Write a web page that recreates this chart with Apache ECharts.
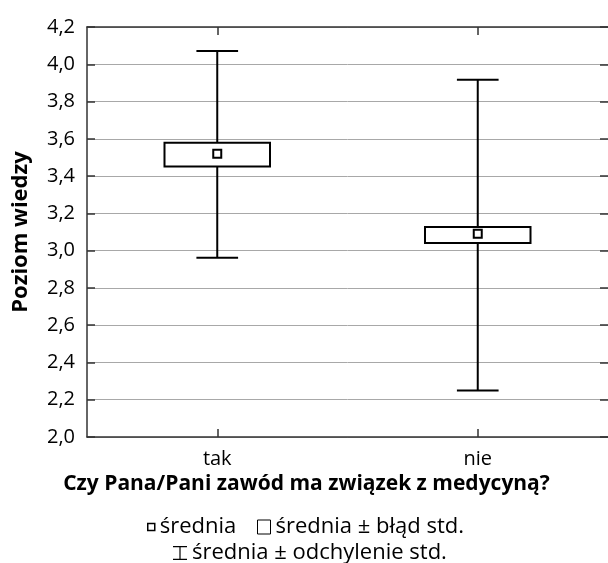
<!DOCTYPE html>
<html>
<head>
<meta charset="utf-8">
<style>
html,body{margin:0;padding:0;background:#fff;}
#chart{width:608px;height:563px;}
</style>
<script src="https://cdn.jsdelivr.net/npm/echarts@6/dist/echarts.min.js"></script>
</head>
<body>
<div id="chart"></div>
<script>
// ---- data ----
var categories = ['tak', 'nie'];
var means = [3.52, 3.09];
var seLow = [3.452, 3.041];
var seHigh = [3.579, 3.127];
var sdLow = [2.962, 2.249];
var sdHigh = [4.071, 3.917];
var yTicks = ['2,0','2,2','2,4','2,6','2,8','3,0','3,2','3,4','3,6','3,8','4,0','4,2'];
var xTitle = 'Czy Pana/Pani zawód ma związek z medycyną?';
var yTitle = 'Poziom wiedzy';
var seriesNames = ['średnia', 'średnia ± błąd std.', 'średnia ± odchylenie std.'];

var FONT = 'Open Sans';
var chart = echarts.init(document.getElementById('chart'), null, {renderer: 'canvas'});

function fmtY(v) {
  var i = Math.round((v - 2.0) / 0.2);
  return yTicks[i] !== undefined ? yTicks[i] : '';
}

var whiskerData = categories.map(function (c, i) { return [i, sdLow[i], sdHigh[i]]; });
var boxData = categories.map(function (c, i) { return [i, seLow[i], seHigh[i]]; });
var meanData = categories.map(function (c, i) { return [i, means[i]]; });

var LEG_FS = 22;
var option = {
  animation: false,
  backgroundColor: '#fff',
  textStyle: {fontFamily: FONT, color: '#000'},
  grid: {left: 87, top: 27, right: -2, bottom: 126, containLabel: false},
  xAxis: [{
    type: 'category', data: categories, position: 'bottom',
    boundaryGap: true,
    axisLine: {show: true, lineStyle: {color: '#333', width: 1.5}},
    axisTick: {show: true, inside: true, alignWithLabel: true, length: 8, lineStyle: {color: '#333', width: 1.5}},
    axisLabel: {fontFamily: FONT, fontSize: 20, color: '#000', margin: 12},
    splitLine: {show: false},
    name: xTitle, nameLocation: 'middle', nameGap: 33,
    nameTextStyle: {fontFamily: FONT, fontSize: 21, fontWeight: 'bold', color: '#000', padding: [0, 82, 0, 0]}
  }, {
    type: 'category', data: categories, position: 'top',
    boundaryGap: true,
    axisLine: {show: true, lineStyle: {color: '#333', width: 1.5}},
    axisTick: {show: true, inside: true, alignWithLabel: true, length: 8, lineStyle: {color: '#333', width: 1.5}},
    axisLabel: {show: false},
    splitLine: {show: false}
  }],
  yAxis: [{
    type: 'value', min: 2.0, max: 4.2, interval: 0.2, position: 'left',
    axisLine: {show: true, lineStyle: {color: '#333', width: 1.5}},
    axisTick: {show: true, inside: true, length: 8, lineStyle: {color: '#333', width: 1.5}},
    axisLabel: {fontFamily: FONT, fontSize: 20, color: '#000', margin: 12, formatter: fmtY},
    splitLine: {show: true, lineStyle: {color: '#a8a8a8', width: 1}},
    name: yTitle, nameLocation: 'middle', nameGap: 55,
    nameTextStyle: {fontFamily: FONT, fontSize: 22, fontWeight: 'bold', color: '#000'}
  }, {
    type: 'value', min: 2.0, max: 4.2, interval: 0.2, position: 'right',
    axisLine: {show: false},
    axisTick: {show: true, inside: true, length: 8, lineStyle: {color: '#333', width: 1.5}},
    axisLabel: {show: false},
    splitLine: {show: false}
  }],
  legend: [{
    left: 147, top: 516, padding: 0, itemWidth: 7, itemHeight: 7, selectedMode: false,
    textStyle: {fontFamily: FONT, fontSize: LEG_FS, color: '#000'},
    data: [{name: seriesNames[0], icon: 'rect', itemStyle: {color: '#fff', borderColor: '#000', borderWidth: 1.5}}]
  }, {
    left: 257, top: 516, padding: 0, itemWidth: 13, itemHeight: 14, selectedMode: false,
    textStyle: {fontFamily: FONT, fontSize: LEG_FS, color: '#000'},
    data: [{name: seriesNames[1], icon: 'rect', itemStyle: {color: '#fff', borderColor: '#000', borderWidth: 1}}]
  }, {
    left: 173, top: 542, padding: 0, itemWidth: 14, itemHeight: 14, selectedMode: false,
    textStyle: {fontFamily: FONT, fontSize: LEG_FS, color: '#000'},
    data: [{name: seriesNames[2], icon: 'path://M0,0h14v1.2h-14z M6.4,0h1.2v14h-1.2z M0,12.8h14v1.2h-14z', itemStyle: {color: '#000', borderWidth: 0}}]
  }],
  series: [{
    name: seriesNames[2], type: 'custom', xAxisIndex: 0, yAxisIndex: 0,
    itemStyle: {color: '#000'},
    encode: {x: 0, y: [1, 2]},
    renderItem: function (params, api) {
      var x = api.value(0);
      var lo = api.coord([x, api.value(1)]);
      var hi = api.coord([x, api.value(2)]);
      var band = api.size([1, 0])[0];
      var cap = band * 0.16 / 2;
      var st = {stroke: '#000', lineWidth: 2, fill: null};
      return {type: 'group', children: [
        {type: 'line', shape: {x1: lo[0], y1: lo[1], x2: hi[0], y2: hi[1]}, style: st},
        {type: 'line', shape: {x1: hi[0] - cap, y1: hi[1], x2: hi[0] + cap, y2: hi[1]}, style: st},
        {type: 'line', shape: {x1: lo[0] - cap, y1: lo[1], x2: lo[0] + cap, y2: lo[1]}, style: st}
      ]};
    },
    data: whiskerData, z: 2
  }, {
    name: seriesNames[1], type: 'custom', xAxisIndex: 0, yAxisIndex: 0,
    itemStyle: {color: '#fff', borderColor: '#000'},
    encode: {x: 0, y: [1, 2]},
    renderItem: function (params, api) {
      var x = api.value(0);
      var lo = api.coord([x, api.value(1)]);
      var hi = api.coord([x, api.value(2)]);
      var band = api.size([1, 0])[0];
      var w = band * 0.405;
      return {type: 'rect', shape: {x: lo[0] - w / 2, y: hi[1], width: w, height: lo[1] - hi[1]},
        style: {fill: '#fff', stroke: '#000', lineWidth: 2}};
    },
    data: boxData, z: 3
  }, {
    name: seriesNames[0], type: 'scatter', xAxisIndex: 0, yAxisIndex: 0,
    symbol: 'rect', symbolSize: 8,
    itemStyle: {color: '#fff', borderColor: '#000', borderWidth: 2, opacity: 1},
    data: meanData, z: 4
  }]
};
chart.setOption(option);
</script>
</body>
</html>
